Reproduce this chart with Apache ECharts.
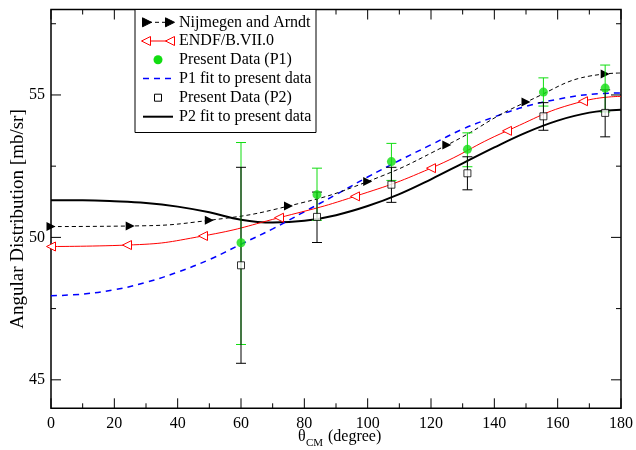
<!DOCTYPE html>
<html>
<head>
<meta charset="utf-8">
<script src="https://cdn.jsdelivr.net/npm/echarts@6/dist/echarts.min.js"></script>
<style>html,body{margin:0;padding:0;background:#fff}#c{width:636px;height:450px}</style>
</head>
<body>
<div id="c"></div>
<script>
// ---- data ----
const nijAngles = [0, 25, 50, 75, 100, 125, 150, 175, 180];
const nijValues = [50.38, 50.40, 50.60, 51.10, 51.96, 53.24, 54.75, 55.74, 55.77];

const endfAngles = [0, 24, 48, 72, 96, 120, 144, 168, 180];
const endfValues = [49.68, 49.73, 50.05, 50.69, 51.44, 52.43, 53.74, 54.78, 54.95];

const fitAngles = [0, 10, 20, 30, 40, 50, 60, 70, 80, 90, 100, 110, 120, 130, 140, 150, 160, 170, 180];
const p1Fit = [47.95, 48.01, 48.16, 48.42, 48.78, 49.22, 49.76, 50.30, 50.90, 51.50, 52.12, 52.70, 53.25, 53.80, 54.23, 54.60, 54.85, 55.02, 55.07];
const p2Fit = [51.30, 51.30, 51.27, 51.21, 51.08, 50.88, 50.62, 50.52, 50.58, 50.78, 51.10, 51.52, 52.04, 52.60, 53.16, 53.68, 54.10, 54.38, 54.48];

const dataAngles = [60, 84, 107.5, 131.5, 155.5, 175];
const p1Values = [49.81, 51.50, 52.66, 53.09, 55.10, 55.24];
const p1Upper  = [53.33, 52.43, 53.30, 53.67, 55.60, 56.05];
const p1Lower  = [46.24, 50.60, 52.00, 52.48, 54.61, 54.40];
const p2Values = [49.02, 50.72, 51.85, 52.25, 54.25, 54.37];
const p2Upper  = [52.46, 51.59, 52.46, 52.83, 54.73, 55.18];
const p2Lower  = [45.58, 49.82, 51.23, 51.67, 53.76, 53.53];

const xMajor = [0, 20, 40, 60, 80, 100, 120, 140, 160, 180];
const xMinor = [10, 30, 50, 70, 90, 110, 130, 150, 170];
const yMajor = [45, 50, 55];
const yMinor = [47.5, 52.5, 57.5];

const legendLabels = ['Nijmegen and Arndt', 'ENDF/B.VII.0', 'Present Data (P1)', 'P1 fit to present data', 'Present Data (P2)', 'P2 fit to present data'];
// -------------------------------------

const X_MIN = 0, X_MAX = 180, Y_MIN = 44, Y_MAX = 58;
const FONT = 'Liberation Serif';
const GREEN = '#11dd11';
const RIGHT_TRI = 'path://M0,0 L10,5 L0,10 Z';
const LEFT_TRI = 'path://M10,0 L0,5 L10,10 Z';

const zip = (a, b) => a.map((v, i) => [v, b[i]]);

function errRender(color) {
  return function (params, api) {
    const x = api.value(0), lo = api.value(1), hi = api.value(2);
    const a = api.coord([x, lo]), b = api.coord([x, hi]);
    const st = { stroke: color, lineWidth: 1 };
    return {
      type: 'group', children: [
        { type: 'line', shape: { x1: a[0], y1: a[1], x2: b[0], y2: b[1] }, style: st },
        { type: 'line', shape: { x1: a[0] - 5, y1: a[1], x2: a[0] + 5, y2: a[1] }, style: st },
        { type: 'line', shape: { x1: b[0] - 5, y1: b[1], x2: b[0] + 5, y2: b[1] }, style: st }
      ]
    };
  };
}

// tick marks on all four sides, positioned through the axis scales
const xTickVals = xMajor.concat(xMinor);
const xTickLen = xMajor.map(() => 10).concat(xMinor.map(() => 5));
const yTickVals = yMajor.concat(yMinor);
const yTickLen = yMajor.map(() => 10).concat(yMinor.map(() => 5));
const TICK_ST = { stroke: '#000', lineWidth: 1 };

function xTickRender(params, api) {
  const x = api.value(0);
  const len = xTickLen[params.dataIndex];
  const a = api.coord([x, Y_MIN]), b = api.coord([x, Y_MAX]);
  return {
    type: 'group', children: [
      { type: 'line', shape: { x1: a[0], y1: a[1], x2: a[0], y2: a[1] - len }, style: TICK_ST },
      { type: 'line', shape: { x1: b[0], y1: b[1], x2: b[0], y2: b[1] + len }, style: TICK_ST }
    ]
  };
}
function yTickRender(params, api) {
  const y = api.value(1);
  const len = yTickLen[params.dataIndex];
  const a = api.coord([X_MIN, y]), b = api.coord([X_MAX, y]);
  return {
    type: 'group', children: [
      { type: 'line', shape: { x1: a[0], y1: a[1], x2: a[0] + len, y2: a[1] }, style: TICK_ST },
      { type: 'line', shape: { x1: b[0], y1: b[1], x2: b[0] - len, y2: b[1] }, style: TICK_ST }
    ]
  };
}

// legend graphics
const LX = 135, LY = 9.5, LW = 181, LH = 123;
const rowY = [22.3, 41, 59.7, 78.5, 97.7, 116.7];
const g = [];
g.push({ type: 'rect', shape: { x: LX, y: LY, width: LW, height: LH }, style: { fill: '#fff', stroke: '#000', lineWidth: 1 }, z: 10 });
function tri(cx, cy, dir, fill, stroke) {
  const s = 4.5;
  const pts = dir > 0 ? [[cx - s, cy - s], [cx + s, cy], [cx - s, cy + s]] : [[cx + s, cy - s], [cx - s, cy], [cx + s, cy + s]];
  return { type: 'polygon', shape: { points: pts }, style: { fill: fill, stroke: stroke, lineWidth: 1 }, z: 11 };
}
g.push({ type: 'line', shape: { x1: 148, y1: rowY[0], x2: 168, y2: rowY[0] }, style: { stroke: '#000', lineWidth: 1, lineDash: [4, 3] }, z: 11 });
g.push(tri(147, rowY[0], 1, '#000', '#000'));
g.push(tri(170, rowY[0], 1, '#000', '#000'));
g.push({ type: 'line', shape: { x1: 145, y1: rowY[1], x2: 172, y2: rowY[1] }, style: { stroke: '#f00', lineWidth: 1 }, z: 11 });
g.push(tri(146, rowY[1], -1, '#fff', '#f00'));
g.push(tri(170, rowY[1], -1, '#fff', '#f00'));
g.push({ type: 'circle', shape: { cx: 158, cy: rowY[2], r: 4.5 }, style: { fill: GREEN }, z: 11 });
g.push({ type: 'line', shape: { x1: 143, y1: rowY[3], x2: 173, y2: rowY[3] }, style: { stroke: '#0000ff', lineWidth: 1.5, lineDash: [6, 5] }, z: 11 });
g.push({ type: 'rect', shape: { x: 154.5, y: rowY[4] - 3.5, width: 7, height: 7 }, style: { fill: '#fff', stroke: '#000', lineWidth: 1 }, z: 11 });
g.push({ type: 'line', shape: { x1: 143, y1: rowY[5], x2: 173, y2: rowY[5] }, style: { stroke: '#000', lineWidth: 2 }, z: 11 });
legendLabels.forEach((t, i) => {
  g.push({ type: 'text', x: 179, y: rowY[i], style: { text: t, font: '16px "' + FONT + '"', fill: '#000', textVerticalAlign: 'middle', textAlign: 'left' }, z: 11 });
});
// axis titles
g.push({ type: 'text', x: 18, y: 219, rotation: Math.PI / 2, style: { text: 'Angular Distribution [mb/sr]', font: '19px "' + FONT + '"', fill: '#000', textAlign: 'center', textVerticalAlign: 'middle' } });
g.push({ type: 'text', x: 298, y: 437, style: { text: 'θ', font: '16px "' + FONT + '"', fill: '#000', textAlign: 'left', textVerticalAlign: 'middle' } });
g.push({ type: 'text', x: 306, y: 443, style: { text: 'CM', font: '11px "' + FONT + '"', fill: '#000', textAlign: 'left', textVerticalAlign: 'middle' } });
g.push({ type: 'text', x: 328, y: 437, style: { text: '(degree)', font: '16px "' + FONT + '"', fill: '#000', textAlign: 'left', textVerticalAlign: 'middle' } });

const nijData = zip(nijAngles, nijValues).map((p, i) => i === nijAngles.length - 1 ? { value: p, symbol: 'none' } : p);
const endfData = zip(endfAngles, endfValues).map((p, i) => i === endfAngles.length - 1 ? { value: p, symbol: 'none' } : p);

const chart = echarts.init(document.getElementById('c'), null, { renderer: 'canvas' });
chart.setOption({
  animation: false,
  backgroundColor: '#fff',
  grid: { left: 51, right: 14, top: 9.5, bottom: 41.7, containLabel: false, show: true, borderColor: '#000', borderWidth: 1.5, backgroundColor: 'transparent' },
  xAxis: {
    type: 'value', min: X_MIN, max: X_MAX, interval: 20,
    axisLine: { show: false }, axisTick: { show: false },
    axisLabel: { show: true, fontFamily: FONT, fontSize: 16, color: '#000', margin: 7 },
    splitLine: { show: false }
  },
  yAxis: {
    type: 'value', min: Y_MIN, max: Y_MAX,
    axisLine: { show: false }, axisTick: { show: false },
    axisLabel: { show: true, customValues: yMajor, fontFamily: FONT, fontSize: 16, color: '#000', margin: 6 },
    splitLine: { show: false }
  },
  series: [
    { type: 'custom', renderItem: xTickRender, data: xTickVals.map(v => [v, Y_MIN]), encode: { x: 0, y: 1 }, silent: true, clip: false, z: 8 },
    { type: 'custom', renderItem: yTickRender, data: yTickVals.map(v => [X_MIN, v]), encode: { x: 0, y: 1 }, silent: true, clip: false, z: 8 },
    { type: 'line', data: zip(fitAngles, p2Fit), smooth: 0.4, showSymbol: false, symbol: 'none', lineStyle: { color: '#000', width: 2 }, z: 2 },
    { type: 'line', data: zip(fitAngles, p1Fit), smooth: 0.4, showSymbol: false, symbol: 'none', lineStyle: { color: '#0000ff', width: 1.5, type: [6, 5] }, z: 2 },
    { type: 'line', data: nijData, smooth: 0.5, symbol: RIGHT_TRI, symbolSize: 9, itemStyle: { color: '#000' }, lineStyle: { color: '#000', width: 1, type: [4, 3] }, z: 3 },
    { type: 'line', data: endfData, smooth: 0.5, symbol: LEFT_TRI, symbolSize: 9, itemStyle: { color: '#fff', borderColor: '#f00', borderWidth: 1 }, lineStyle: { color: '#f00', width: 1 }, z: 3 },
    { type: 'custom', renderItem: errRender(GREEN), data: dataAngles.map((a, i) => [a, p1Lower[i], p1Upper[i]]), encode: { x: 0, y: [1, 2] }, z: 4 },
    { type: 'custom', renderItem: errRender('#000'), data: dataAngles.map((a, i) => [a, p2Lower[i], p2Upper[i]]), encode: { x: 0, y: [1, 2] }, z: 5 },
    { type: 'scatter', data: zip(dataAngles, p1Values), symbol: 'circle', symbolSize: 9, itemStyle: { color: GREEN }, z: 6 },
    { type: 'scatter', data: zip(dataAngles, p2Values), symbol: 'rect', symbolSize: 7, itemStyle: { color: '#fff', borderColor: '#000', borderWidth: 1 }, z: 7 }
  ],
  graphic: g
});
</script>
</body>
</html>
